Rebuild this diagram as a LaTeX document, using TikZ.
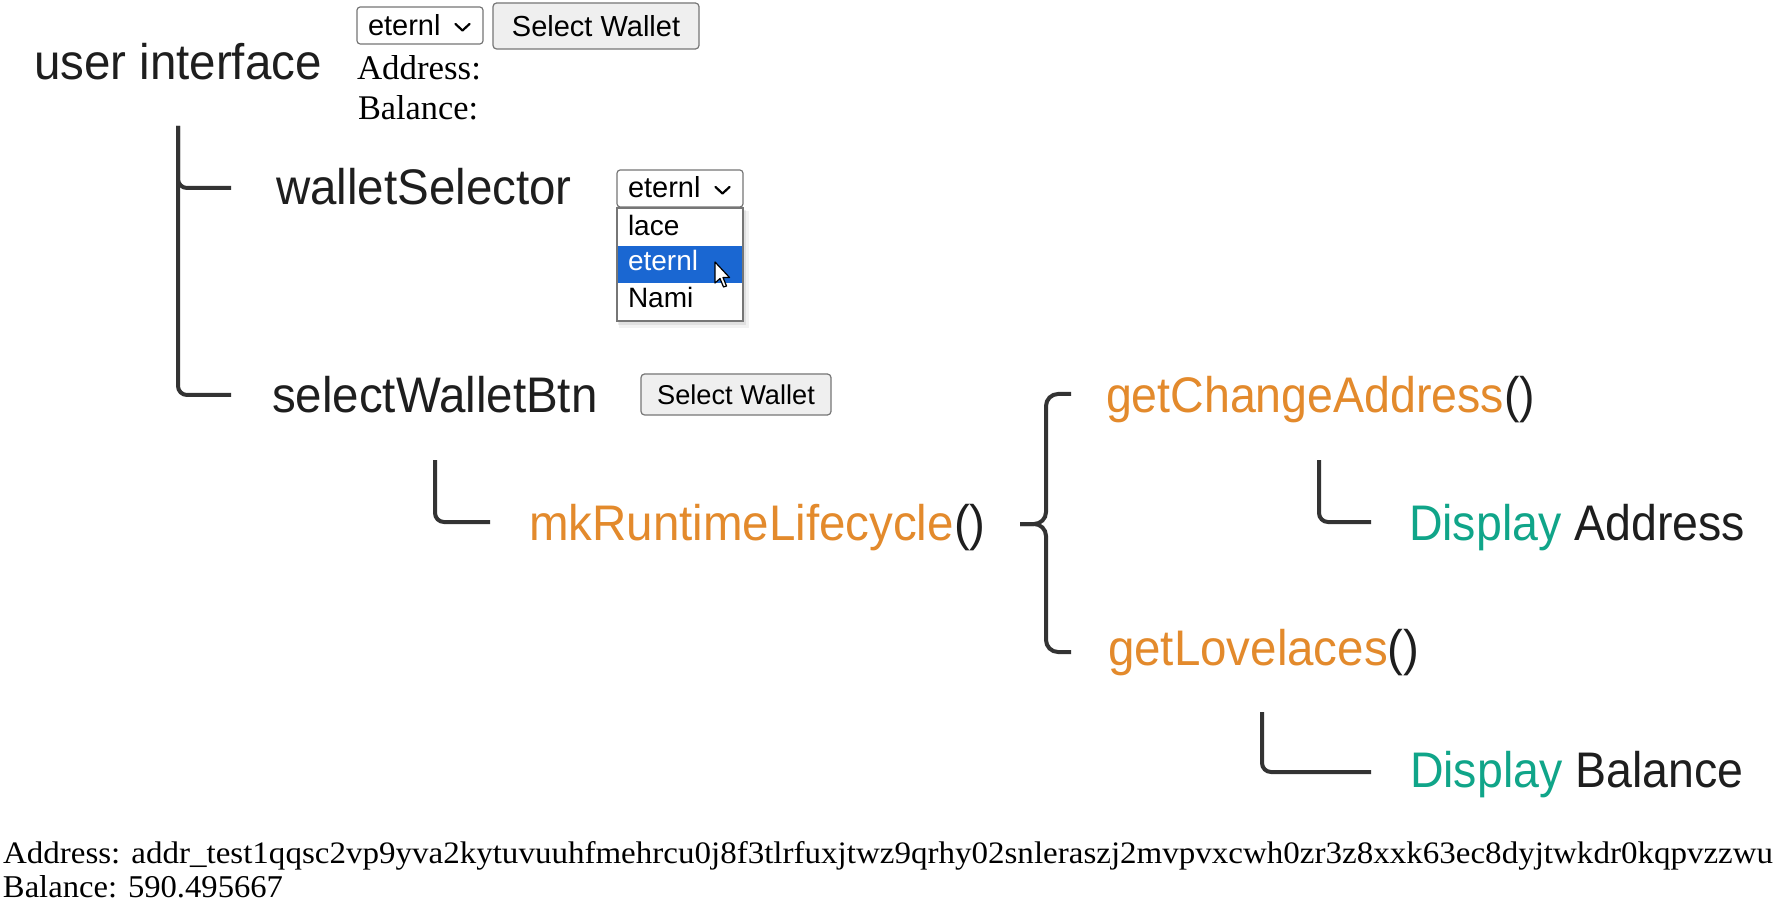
\documentclass[tikz,border=0pt]{standalone}
\usepackage{fontspec}
\usepackage{graphicx}
\setmainfont{Liberation Serif}
\newfontfamily\labfont[FakeStretch=0.95]{Liberation Sans}
\newfontfamily\labfontn[FakeStretch=0.93]{Liberation Sans}
\newfontfamily\uifont{Liberation Sans}
\newfontfamily\serfont{Liberation Serif}
\definecolor{fnorange}{HTML}{E38A2C}
\definecolor{dispteal}{HTML}{10A589}
\definecolor{labink}{HTML}{1E1E1E}
\definecolor{treeline}{HTML}{333333}
\definecolor{ctlborder}{HTML}{767676}
\definecolor{btnfill}{HTML}{EFEFEF}
\definecolor{selblue}{HTML}{1A67D2}
\begin{document}
\begin{tikzpicture}[x=0.5pt,y=-0.5pt,
  lab/.style={anchor=base west, inner sep=0pt, outer sep=0pt, text=labink, font=\labfont\fontsize{25}{30}\selectfont},
  labn/.style={lab, font=\labfontn\fontsize{25}{30}\selectfont},
  uitxt/.style={anchor=base west, inner sep=0pt, outer sep=0pt, text=black, font=\uifont\fontsize{14}{16}\selectfont},
  sertxt/.style={anchor=base west, inner sep=0pt, outer sep=0pt, text=black},
  tree/.style={draw=treeline, line width=2pt, rounded corners=4.5pt},
  bracepath/.style={draw=treeline, line width=2pt, rounded corners=6pt},
  ctl/.style={draw=ctlborder, line width=0.6pt, rounded corners=1.6pt, fill=white, inner sep=0pt},
  btn/.style={draw=ctlborder, line width=0.6pt, rounded corners=1.8pt, fill=btnfill, inner sep=0pt, text=black},
  chev/.style={draw=black, line width=1.1pt, line cap=round, line join=round}
]
\fill[white] (0,0) rectangle (1780,908);
\useasboundingbox (0,0) rectangle (1780,908);

% ---- top browser controls
\node[ctl, minimum width=63pt, minimum height=18.5pt] (dd1) at (420,25.5) {};
\node[uitxt, font=\uifont\fontsize{14.5}{16}\selectfont] (dd1txt) at (368,36) {eternl};
\draw[chev] (455.5,24) -- (462.5,30.5) -- (469.5,24);
\node[btn, minimum width=103pt, minimum height=23pt, font=\uifont\fontsize{14.5}{16}\selectfont] (btn1) at (596,26) {Select Wallet};
\node[sertxt] (addr1) at (357,80) {\resizebox{62pt}{12pt}{\serfont Address:}};
\node[sertxt] (bal1) at (358,120) {\resizebox{60pt}{12pt}{\serfont Balance:}};

% ---- labels
\node[lab] (ui) at (34,80) {user interface};
\node[lab] (ws) at (276,205) {walletSelector};
\node[lab] (swb) at (272,413) {selectWalletBtn};
\node[lab] (mk) at (529,540) {\textcolor{fnorange}{mkRuntimeLifecycle}()};
\node[labn] (gca) at (1106,413) {\textcolor{fnorange}{getChangeAddress}()};
\node[labn] (da) at (1409,540) {\textcolor{dispteal}{Display} Address};
\node[lab] (gl) at (1108,665) {\textcolor{fnorange}{getLovelaces}()};
\node[labn] (db) at (1410,787) {\textcolor{dispteal}{Display} Balance};

% ---- second dropdown (open)
\node[ctl, minimum width=63pt, minimum height=18.5pt] (dd2) at (680,188.5) {};
\node[uitxt, font=\uifont\fontsize{14.5}{16}\selectfont] (dd2txt) at (628,198) {eternl};
\draw[chev] (715.5,187) -- (722.5,193.5) -- (729.5,187);
\fill[black, opacity=0.05] (619,211) rectangle (749,328);
\fill[black, opacity=0.07] (618,210) rectangle (746,325);
\node[draw=ctlborder, line width=0.6pt, fill=white, inner sep=0pt, minimum width=63pt, minimum height=56.5pt] (list) at (680,264.5) {};
\fill[selblue] (618,246) rectangle (742,283);
\node[uitxt] (optlace) at (628,236) {lace};
\node[uitxt, text=white] (opteternl) at (628,271) {eternl};
\node[uitxt] (optnami) at (628,308) {Nami};
\draw[fill=white, draw=black, line width=0.6pt, line join=round] (715,262) -- ++(0,21) -- ++(5,-4.5) -- ++(3.5,8.5) -- ++(3,-1) -- ++(-3.5,-8.5) -- ++(6.5,0) -- cycle;

% ---- second button
\node[btn, minimum width=95pt, minimum height=20.5pt, font=\uifont\fontsize{13.6}{15}\selectfont] (btn2) at (736,394.5) {Select Wallet};

% ---- tree connectors
\coordinate (t1top) at (178,126);
\coordinate (t1ws) at (231,188);
\coordinate (t1swb) at (231,395);
\draw[tree] (t1top) |- (t1ws);
\draw[tree] (t1top) |- (t1swb);

\coordinate (t2top) at (435,460);
\coordinate (t2end) at (490,522);
\draw[tree] (t2top) |- (t2end);

\coordinate (t3top) at (1319,460);
\coordinate (t3end) at (1371,522);
\draw[tree] (t3top) |- (t3end);

\coordinate (t4top) at (1262,712);
\coordinate (t4end) at (1371,772);
\draw[tree] (t4top) |- (t4end);

% ---- brace
\coordinate (brtop) at (1071,394);
\coordinate (brtip) at (1020,524);
\coordinate (brbot) at (1071,652);
\draw[bracepath] (brtop) -- (1046,394) -- (1046,524) -- (brtip);
\draw[bracepath] (brtip) -- (1046,524) -- (1046,652) -- (brbot);

% ---- bottom output
\node[sertxt] (addr2) at (3,863) {\resizebox{885pt}{11pt}{\serfont Address: addr\_test1qqsc2vp9yva2kytuvuuhfmehrcu0j8f3tlrfuxjtwz9qrhy02snleraszj2mvpvxcwh0zr3z8xxk63ec8dyjtwkdr0kqpvzzwu}};
\node[sertxt] (bal2) at (3,897) {\resizebox{140pt}{11pt}{\serfont Balance: 590.495667}};
\end{tikzpicture}
\end{document}
